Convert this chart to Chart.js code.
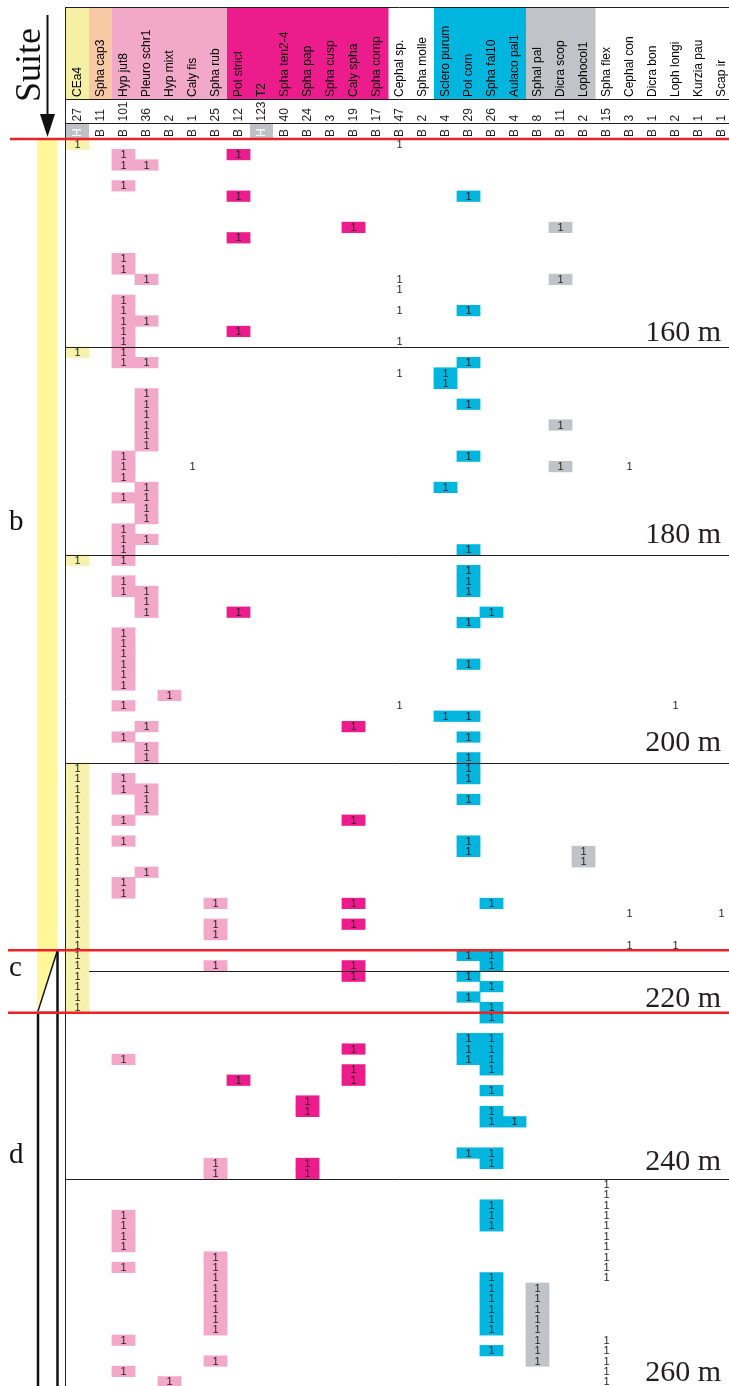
<!DOCTYPE html>
<html><head><meta charset="utf-8">
<script src="https://cdn.jsdelivr.net/npm/chart.js@4.4.1/dist/chart.umd.min.js"></script>
<style>
html,body{margin:0;padding:0;background:#fff;overflow:hidden;}
#wrap{position:relative;width:740px;height:1386px;}
</style>
</head><body><div id="wrap"><canvas id="c" width="740" height="1386"></canvas></div>
<script>
// ---------- DATA ----------
const taxa = ['CEa4','Spha cap3','Hyp jut8','Pleuro schr1','Hyp mixt','Caly fis','Spha rub','Pol strict','T2','Spha ten2-4','Spha pap','Spha cusp','Caly spha','Spha comp','Cephal sp.','Spha molle','Sclero purum','Pol com','Spha fal10','Aulaco pal1','Sphal pal','Dicra scop','Lophocol1','Spha flex','Cephal con','Dicra bon','Loph longi','Kurzia pau','Scap ir'];
const totals = [27,11,101,36,2,1,25,12,123,40,24,3,19,17,47,2,4,29,26,4,8,11,2,15,3,1,2,1,1];
const sampleKind = ['H','B','B','B','B','B','B','B','H','B','B','B','B','B','B','B','B','B','B','B','B','B','B','B','B','B','B','B','B'];
const taxonGroup = ['yellow','peach','pink','pink','pink','pink','pink','magenta','magenta','magenta','magenta','magenta','magenta','magenta','none','none','cyan','cyan','cyan','cyan','gray','gray','gray','none','none','none','none','none','none'];
const cellStyle = ['yellow','peach','pink','pink','pink','plain','pink','magenta','magenta','magenta','magenta','magenta','magenta','magenta','plain','plain','cyan','cyan','cyan','cyan','gray','gray','gray','plain','plain','plain','plain','plain','plain'];
// depth (m) of the top of each sample (1 m samples) where the taxon occurs
const occurrenceDepths = [
  [140,160,180,200,201,202,203,204,205,206,207,208,209,210,211,212,213,214,215,216,217,218,219,220,221,222,223],
  [],
  [141,142,144,151,152,155,156,157,158,159,160,161,170,171,172,174,177,178,179,180,182,183,187,188,189,190,191,192,194,197,201,202,205,207,211,212,228,243,244,245,246,248,255,258],
  [142,153,157,161,164,165,166,167,168,169,173,174,175,176,178,183,184,185,196,198,199,202,203,204,210],
  [193,259],
  [171],
  [213,215,216,219,238,239,247,248,249,250,251,252,253,254,257],
  [141,145,149,158,185,230],
  [],
  [],
  [232,233,238,239],
  [],
  [148,196,205,213,215,219,220,227,229,230],
  [],
  [140,153,154,156,159,162,194],
  [],
  [162,163,173,195],
  [145,156,161,165,170,179,181,182,183,186,190,195,197,199,200,201,203,207,208,218,220,222,226,227,228,237],
  [185,213,218,219,221,223,224,226,227,228,229,231,233,234,237,238,242,243,244,249,250,251,252,253,254,256],
  [234],
  [250,251,252,253,254,255,256,257],
  [148,153,167,171],
  [208,209],
  [240,241,242,243,244,245,246,247,248,249,255,256,257,258,259],
  [171,214,217],
  [],
  [194,217],
  [],
  [214]
];
const depthTicks = [160,180,200,220,240,260];
const suiteNames = ['b','c','d'];
const suiteTop = [140,218,224];
const suiteBottom = [218,224,260];

// ---------- STYLE ----------
const COLORS = {
  yellow:'#f7f1ae', peach:'#f6c9a4', pink:'#f2a8c8', magenta:'#ec1c8c',
  cyan:'#00b6df', gray:'#c1c3c9', plain:'rgba(0,0,0,0)', none:null
};
const headerColors = {yellow:'#f6f0a6', peach:'#f6c9a4', pink:'#f2a8c8', magenta:'#ec1c8c', cyan:'#00b6df', gray:'#c1c3c9', none:null};
const INK = '#231f20';
const SANS = '"Liberation Sans", Arial, sans-serif';
const SERIF = '"Liberation Serif", "Times New Roman", serif';

// ---------- DATASETS ----------
const styleOrder = ['yellow','peach','pink','magenta','cyan','gray','plain'];
const datasets = styleOrder.map(st => {
  const data = [];
  taxa.forEach((t, i) => {
    if (cellStyle[i] !== st) return;
    occurrenceDepths[i].forEach(d => data.push({x: t, y: [d, d + 1]}));
  });
  return {label: st, data, backgroundColor: COLORS[st], borderWidth: 0,
    barPercentage: 1, categoryPercentage: 1, grouped: false, inflateAmount: 0.4};
});

// ---------- PLUGIN ----------
const diagramPlugin = {
  id: 'diagram',
  afterDatasetsDraw(chart) {
    const ctx = chart.ctx;
    const xs = chart.scales.x, ys = chart.scales.y;
    const area = chart.chartArea;
    const colW = xs.getPixelForValue(1) - xs.getPixelForValue(0);
    const left = area.left, right = area.right;
    ctx.save();

    // "1" labels on every occurrence cell
    ctx.fillStyle = INK;
    ctx.font = '11px ' + SANS;
    ctx.textAlign = 'center';
    ctx.textBaseline = 'middle';
    chart.data.datasets.forEach((ds, di) => {
      chart.getDatasetMeta(di).data.forEach(el => {
        ctx.fillText('1', el.x, (el.y + el.base) / 2 + 0.5);
      });
    });

    // ---- header ----
    const hTop = 7, bandBottom = 99, numBottom = 123, kindBottom = 139;
    ctx.fillStyle = '#fff';
    ctx.fillRect(left, 0, right - left, kindBottom);
    taxa.forEach((t, i) => {
      const cx = xs.getPixelForValue(i);
      const c = headerColors[taxonGroup[i]];
      if (c) { ctx.fillStyle = c; ctx.fillRect(cx - colW / 2, hTop, colW + 0.5, bandBottom - hTop); }
      if (sampleKind[i] === 'H') { ctx.fillStyle = '#bfc1c6'; ctx.fillRect(cx - colW / 2, numBottom + 1, colW, kindBottom - numBottom - 2); }
    });
    ctx.strokeStyle = INK; ctx.lineWidth = 1;
    [hTop + 0.5, bandBottom + 0.5, numBottom + 0.5].forEach(y => {
      ctx.beginPath(); ctx.moveTo(left, y); ctx.lineTo(right, y); ctx.stroke();
    });
    ctx.font = '12px ' + SANS;
    ctx.textAlign = 'left';
    ctx.textBaseline = 'middle';
    taxa.forEach((t, i) => {
      const cx = xs.getPixelForValue(i) + 0.5;
      const rot = (txt, y, color) => {
        ctx.save(); ctx.translate(cx, y); ctx.rotate(-Math.PI / 2);
        ctx.fillStyle = color; ctx.fillText(txt, 0, 0); ctx.restore();
      };
      rot(t, 97, '#000');
      rot(String(totals[i]), 121.5, INK);
      rot(sampleKind[i], 137, sampleKind[i] === 'H' ? '#fff' : INK);
    });

    // left border of the diagram
    ctx.strokeStyle = INK; ctx.lineWidth = 1;
    ctx.beginPath(); ctx.moveTo(left - 0.5, hTop); ctx.lineTo(left - 0.5, chart.height); ctx.stroke();

    // depth lines and labels
    const labelOffset = {160: -7, 180: -13, 200: -13, 220: 35, 240: -10, 260: -7};
    depthTicks.forEach(d => {
      const y = Math.round(ys.getPixelForValue(d)) + 0.5;
      const x0 = d === 220 ? left + colW : left;
      ctx.strokeStyle = INK; ctx.lineWidth = 1;
      ctx.beginPath(); ctx.moveTo(x0, y); ctx.lineTo(right, y); ctx.stroke();
      ctx.fillStyle = INK; ctx.font = '30px ' + SERIF;
      ctx.textAlign = 'right'; ctx.textBaseline = 'alphabetic';
      ctx.fillText(d + ' m', 721, y + labelOffset[d]);
    });

    // ---- suite column ----
    const sx0 = 37, sx1 = 57.5;
    const yb0 = ys.getPixelForValue(suiteTop[0]), yb1 = ys.getPixelForValue(suiteBottom[0]);
    ctx.fillStyle = '#fff799';
    ctx.fillRect(sx0, yb0, sx1 - sx0, yb1 - yb0);
    const yc0 = ys.getPixelForValue(suiteTop[1]), yc1 = ys.getPixelForValue(suiteBottom[1]);
    ctx.beginPath(); ctx.moveTo(sx0, yc0); ctx.lineTo(sx1, yc0); ctx.lineTo(sx0, yc1); ctx.closePath(); ctx.fill();
    ctx.strokeStyle = '#111'; ctx.lineWidth = 1.5;
    ctx.beginPath(); ctx.moveTo(sx1, yc0); ctx.lineTo(sx0 + 0.5, yc1); ctx.stroke();
    ctx.strokeStyle = '#999'; ctx.lineWidth = 1;
    ctx.beginPath(); ctx.moveTo(sx0, yc1 - 1); ctx.lineTo(sx1, yc1 - 1); ctx.stroke();
    ctx.strokeStyle = '#111'; ctx.lineWidth = 2.5;
    ctx.beginPath(); ctx.moveTo(sx0 + 1, yc1); ctx.lineTo(sx0 + 1, chart.height); ctx.stroke();
    ctx.beginPath(); ctx.moveTo(sx1, yc0); ctx.lineTo(sx1, chart.height); ctx.stroke();

    // suite letters
    const letterBase = [530, 976, 1163];
    ctx.fillStyle = '#111'; ctx.font = '29px ' + SERIF;
    ctx.textAlign = 'left'; ctx.textBaseline = 'alphabetic';
    suiteNames.forEach((s, i) => ctx.fillText(s, 9, letterBase[i]));

    // red suite boundaries
    ctx.strokeStyle = '#ec2227'; ctx.lineWidth = 2.5;
    suiteTop.forEach((d, i) => {
      const y = ys.getPixelForValue(d);
      ctx.beginPath(); ctx.moveTo(i === 0 ? 10 : 8, y); ctx.lineTo(right, y); ctx.stroke();
    });

    // "Suite" title and arrow
    ctx.save(); ctx.translate(40, 65); ctx.rotate(-Math.PI / 2);
    ctx.fillStyle = '#111'; ctx.font = '36px ' + SERIF;
    ctx.textAlign = 'center'; ctx.textBaseline = 'alphabetic';
    ctx.fillText('Suite', 0, 0); ctx.restore();
    ctx.strokeStyle = '#111'; ctx.lineWidth = 2;
    ctx.beginPath(); ctx.moveTo(47.5, 15); ctx.lineTo(47.5, 118); ctx.stroke();
    ctx.fillStyle = '#111';
    ctx.beginPath(); ctx.moveTo(40, 114); ctx.lineTo(55, 114); ctx.lineTo(47.5, 137); ctx.closePath(); ctx.fill();

    ctx.restore();
  }
};

new Chart(document.getElementById('c'), {
  type: 'bar',
  data: {labels: taxa, datasets},
  options: {
    responsive: false,
    animation: false,
    events: [],
    layout: {padding: {top: 139, left: 66, right: 7, bottom: 0}},
    plugins: {legend: {display: false}, tooltip: {enabled: false}},
    scales: {
      x: {type: 'category', display: false, offset: true},
      y: {type: 'linear', display: false, reverse: true, min: 140, max: 259.9}
    }
  },
  plugins: [diagramPlugin]
});
</script>
</body></html>
